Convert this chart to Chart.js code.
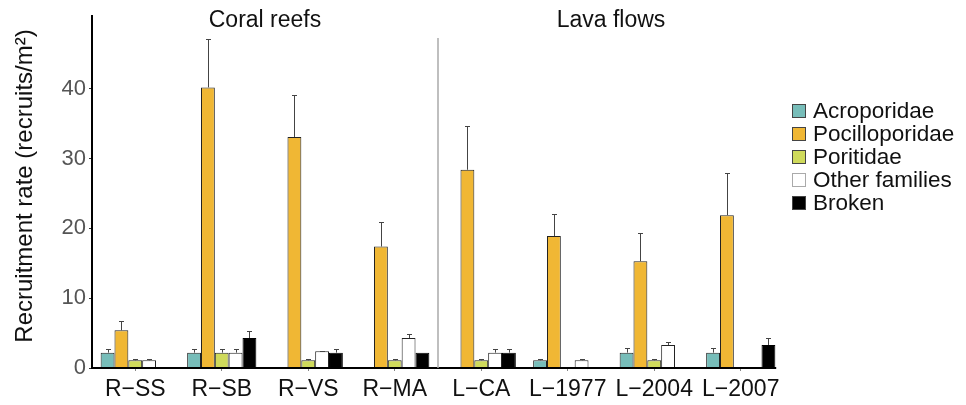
<!DOCTYPE html>
<html>
<head>
<meta charset="utf-8">
<script src="https://cdn.jsdelivr.net/npm/chart.js@4.4.1/dist/chart.umd.min.js"></script>
<style>
  html, body { margin: 0; padding: 0; background: #ffffff; }
  #wrap { width: 966px; height: 405px; position: relative; }
</style>
</head>
<body>
<div id="wrap"><canvas id="c"></canvas></div>
<script>
// ---- data ----
const sites = ['R\u2212SS', 'R\u2212SB', 'R\u2212VS', 'R\u2212MA', 'L\u2212CA', 'L\u22121977', 'L\u22122004', 'L\u22122007'];
const groupNames = ['Coral reefs', 'Lava flows'];
const yTicks = [0, 10, 20, 30, 40];

const acroporidae     = [2.2, 2.2, 0, 0, 0, 1.1, 2.2, 2.2];
const acroporidaeErr  = [0.5, 0.5, 0, 0, 0, 0.25, 0.6, 0.7];
const pocilloporidae    = [5.4, 40.2, 33.1, 17.4, 28.4, 18.9, 15.3, 21.9];
const pocilloporidaeErr = [1.3, 7.0, 6.0, 3.5, 6.3, 3.1, 4.0, 6.1];
const poritidae     = [1.1, 2.2, 1.1, 1.1, 1.1, 0, 1.1, 0];
const poritidaeErr  = [0.25, 0.5, 0.25, 0.25, 0.25, 0, 0.25, 0];
const otherFamilies    = [1.1, 2.2, 2.4, 4.3, 2.2, 1.1, 3.3, 0];
const otherFamiliesErr = [0.25, 0.5, 0.1, 0.6, 0.5, 0.25, 0.4, 0];
const broken     = [0, 4.3, 2.2, 2.2, 2.2, 0, 0, 3.3];
const brokenErr  = [0, 0.95, 0.5, 0, 0.5, 0, 0, 0.95];

const FONT = "'Liberation Sans', Arial, Helvetica, sans-serif";

const series = [
  { label: 'Acroporidae',    data: acroporidae,    err: acroporidaeErr,    color: '#77bdb9', border: '#222222' },
  { label: 'Pocilloporidae', data: pocilloporidae, err: pocilloporidaeErr, color: '#f0b734', border: '#222222' },
  { label: 'Poritidae',      data: poritidae,      err: poritidaeErr,      color: '#cfda5b', border: '#222222' },
  { label: 'Other families', data: otherFamilies,  err: otherFamiliesErr,  color: '#ffffff', border: '#222222' },
  { label: 'Broken',         data: broken,         err: brokenErr,         color: '#000000', border: '#000000' }
];

const overlay = {
  id: 'overlay',
  afterDatasetsDraw(chart) {
    const ctx = chart.ctx;
    const xs = chart.scales.x, ys = chart.scales.y;
    const area = chart.chartArea;
    ctx.save();
    // error bars (upper only)
    chart.data.datasets.forEach((ds, i) => {
      const meta = chart.getDatasetMeta(i);
      meta.data.forEach((el, j) => {
        const e = ds.err[j];
        const v = ds.data[j];
        if (!e || !v) return;
        const x = Math.round(el.x) + 0.5;
        const y0 = ys.getPixelForValue(v);
        const y1 = Math.round(ys.getPixelForValue(v + e)) + 0.5;
        ctx.strokeStyle = '#444444';
        ctx.lineWidth = 1;
        ctx.beginPath();
        ctx.moveTo(x, y0);
        ctx.lineTo(x, y1);
        ctx.moveTo(x - 2.5, y1);
        ctx.lineTo(x + 2.5, y1);
        ctx.stroke();
      });
    });
    // x axis line
    const step = xs.getPixelForValue(1) - xs.getPixelForValue(0);
    const xEnd = xs.getPixelForValue(sites.length - 1) + step * 0.41;
    ctx.strokeStyle = '#000000';
    ctx.lineWidth = 2;
    ctx.beginPath();
    ctx.moveTo(area.left - 1, area.bottom);
    ctx.lineTo(xEnd, area.bottom);
    ctx.stroke();
    ctx.restore();
  },
  afterDraw(chart) {
    const ctx = chart.ctx;
    const xs = chart.scales.x;
    const area = chart.chartArea;
    ctx.save();
    // separator
    const sepX = (xs.getPixelForValue(3) + xs.getPixelForValue(4)) / 2;
    ctx.strokeStyle = '#aaaaaa';
    ctx.lineWidth = 1.5;
    ctx.beginPath();
    ctx.moveTo(sepX, 38);
    ctx.lineTo(sepX, area.bottom);
    ctx.stroke();
    // group titles
    ctx.fillStyle = '#111111';
    ctx.font = '23px ' + FONT;
    ctx.textAlign = 'center';
    ctx.textBaseline = 'middle';
    ctx.fillText(groupNames[0], (xs.getPixelForValue(0) + xs.getPixelForValue(3)) / 2, 21);
    ctx.fillText(groupNames[1], (xs.getPixelForValue(4) + xs.getPixelForValue(7)) / 2, 21);
    // y axis title
    ctx.save();
    ctx.translate(25, 186);
    ctx.rotate(-Math.PI / 2);
    ctx.font = '24px ' + FONT;
    ctx.fillStyle = '#111111';
    ctx.fillText('Recruitment rate (recruits/m\u00B2)', 0, 0);
    ctx.restore();
    // legend
    ctx.font = '22.5px ' + FONT;
    ctx.textAlign = 'left';
    ctx.textBaseline = 'middle';
    chart.data.datasets.forEach((ds, i) => {
      const cy = 111 + i * 23;
      ctx.fillStyle = ds.backgroundColor;
      ctx.fillRect(792.5, cy - 6.5, 13, 13);
      ctx.strokeStyle = ds.label === 'Other families' ? '#aaaaaa' : '#444444';
      ctx.lineWidth = 1;
      ctx.strokeRect(792.5, cy - 6.5, 13, 13);
      ctx.fillStyle = '#111111';
      ctx.fillText(ds.label, 813, cy + 1);
    });
    ctx.restore();
  }
};

new Chart(document.getElementById('c'), {
  type: 'bar',
  data: {
    labels: sites,
    datasets: series.map(s => ({
      label: s.label,
      data: s.data,
      err: s.err,
      backgroundColor: s.color,
      borderColor: s.border,
      borderWidth: 1,
      borderSkipped: 'bottom',
      categoryPercentage: 0.8,
      barPercentage: 1.0
    }))
  },
  options: {
    responsive: true,
    maintainAspectRatio: false,
    animation: false,
    devicePixelRatio: 1,
    layout: { padding: { left: 0, top: 15, right: 182, bottom: 0 } },
    plugins: { legend: { display: false }, tooltip: { enabled: false } },
    scales: {
      x: {
        offset: true,
        border: { display: false },
        grid: { display: true, drawOnChartArea: false, drawTicks: true, tickLength: 3, color: '#888888', offset: false },
        ticks: { color: '#111111', font: { family: FONT, size: 23 }, padding: 5, maxRotation: 0, autoSkip: false },
        afterFit(scale) { scale.height = 37; }
      },
      y: {
        min: 0,
        max: 50.4,
        border: { display: true, color: '#000000', width: 2 },
        grid: { display: true, drawOnChartArea: false, drawTicks: true, tickLength: 3, color: '#333333' },
        ticks: { color: '#555555', font: { family: FONT, size: 22 }, padding: 3 },
        afterBuildTicks(scale) { scale.ticks = yTicks.map(v => ({ value: v })); },
        afterFit(scale) { scale.width = 92; }
      }
    }
  },
  plugins: [overlay]
});
</script>
</body>
</html>
